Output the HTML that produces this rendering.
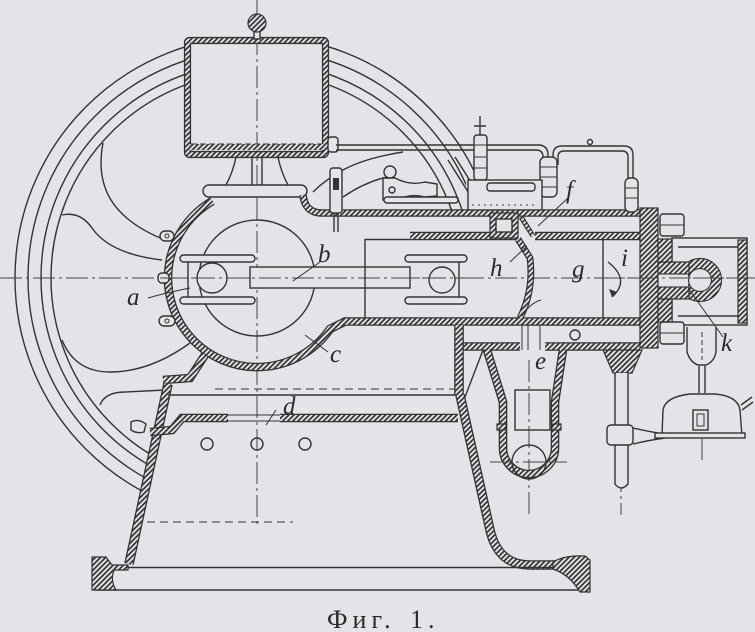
<!DOCTYPE html>
<html><head><meta charset="utf-8">
<style>
html,body{margin:0;padding:0;background:#e2e4e7;}
svg{display:block;}
.l{fill:none;stroke:#333;stroke-width:1.4;}
.t{fill:none;stroke:#333;stroke-width:1;}
.f{fill:#e2e4e7;stroke:#333;stroke-width:1.4;}
.hb{fill:url(#h);stroke:#333;stroke-width:1.2;}
.wo{fill:none;stroke:#333;}
.wi{fill:none;stroke:url(#h);}
.ax{fill:none;stroke:#444;stroke-width:1;stroke-dasharray:22 4 3 4;}
.lab{font-family:"Liberation Serif",serif;font-style:italic;font-size:25px;fill:#2a2a2a;}
.cap{font-family:"Liberation Serif",serif;font-size:26px;fill:#2a2a2a;letter-spacing:5px;}
</style></head><body>
<svg width="755" height="632" viewBox="0 0 755 632" xmlns="http://www.w3.org/2000/svg">
<defs>
<pattern id="h" width="3.6" height="3.6" patternUnits="userSpaceOnUse" patternTransform="rotate(45)">
<rect width="3.6" height="3.6" fill="#e2e4e7"/>
<rect width="1.7" height="3.6" fill="#333"/>
</pattern>
</defs>
<rect width="755" height="632" fill="#e2e4e7"/>

<!-- flywheel rim -->
<g class="l">
<circle cx="257" cy="278" r="242"/>
<circle cx="257" cy="278" r="229"/>
<circle cx="257" cy="278" r="216"/>
<circle cx="257" cy="278" r="206"/>
</g>
<!-- occluders -->
<g fill="#e2e4e7">
<rect x="185" y="30" width="144" height="129"/>
<circle cx="257" cy="278" r="93"/>
<path d="M300 212 L760 212 L760 632 L90 632 L90 566 L125 566 L164 386 L190 378 L205 355 L300 330 Z"/>
<rect x="466" y="178" width="78" height="34"/>
</g>
<!-- spokes -->
<g class="l">
<path d="M103 143 C95 185 110 218 165 240"/>
<path d="M62 215 Q80 211 92 228 Q110 254 162 260"/>
<path d="M62 340 Q75 372 110 372 Q150 372 190 343"/>
<path d="M100 405 Q105 392 125 392 L165 390"/>
</g>

<!-- axes -->
<path class="ax" d="M0 278 L755 278"/>
<path class="ax" d="M257 0 L257 525"/>
<path class="ax" d="M529 360 L529 518"/>
<path class="ax" d="M621 470 L621 515"/>
<path class="ax" d="M702 438 L702 462"/>

<!-- tank -->
<rect x="187.5" y="40.5" width="138" height="114" rx="2" class="wo" stroke-width="7.2"/>
<rect x="187.5" y="40.5" width="138" height="114" rx="2" class="wi" stroke-width="4.6"/>
<rect x="190" y="144" width="133" height="6" fill="url(#h)"/>
<path class="t" d="M191 144 L322 144" stroke-dasharray="6 3"/>
<rect x="254" y="30" width="6" height="9" class="f"/>
<circle cx="257" cy="23" r="9" class="hb"/>
<path class="l" d="M236 157 Q233 172 226 185 M278 157 Q281 172 288 185 M252 157 L252 185 M262 157 L262 185"/>
<rect x="203" y="185" width="104" height="12" rx="6" class="f"/>

<!-- crankcase + cylinder bottom wall -->
<path class="wo" stroke-width="8.6" d="M212.5 201 A89 89 0 1 0 330 329 L345 321.5 L640 321.5"/>
<path class="wi" stroke-width="6" d="M212.5 201 A89 89 0 1 0 330 329 L345 321.5 L640 321.5"/>
<!-- lugs -->
<rect x="160" y="231" width="14" height="10" rx="5" class="f"/>
<circle cx="167" cy="236" r="2" class="t"/>
<rect x="158" y="273" width="11" height="10" rx="4" class="f"/>
<rect x="159" y="316" width="16" height="10" rx="5" class="f"/>
<circle cx="167" cy="321" r="2" class="t"/>
<!-- top frame wall -->
<path class="wo" stroke-width="7.6" d="M303 195 Q305 213 322 213 L640 213"/>
<path class="wi" stroke-width="5" d="M303 195 Q305 213 322 213 L640 213"/>
<!-- cylinder inner top wall -->
<path class="wo" stroke-width="8.6" d="M410 236 L518 236 M535 236 L640 236"/>
<path class="wi" stroke-width="6" d="M410 236 L518 236 M535 236 L640 236"/>
<!-- lower jacket -->
<path class="wo" stroke-width="8.6" d="M459 346.5 L520 346.5 M545 346.5 L640 346.5"/>
<path class="wi" stroke-width="6" d="M459 346.5 L520 346.5 M545 346.5 L640 346.5"/>
<path class="wo" stroke-width="9.6" d="M459 325 L459 395"/>
<path class="wi" stroke-width="7" d="M459 325 L459 395"/>
<path class="t" d="M522 325 L522 350 M528 325 L528 350 M540 325 L540 350"/>
<circle cx="575" cy="335" r="5" class="l"/>

<!-- crank disc + rod -->
<circle cx="257" cy="278" r="58" class="l"/>
<rect x="250" y="267" width="160" height="21" class="f"/>
<rect x="180" y="255" width="75" height="7" rx="3.5" class="f"/>
<rect x="180" y="297" width="75" height="7" rx="3.5" class="f"/>
<path class="l" d="M188 262 L188 297"/>
<circle cx="212" cy="278" r="15" class="f"/>
<rect x="405" y="255" width="62" height="7" rx="3.5" class="f"/>
<rect x="405" y="297" width="62" height="7" rx="3.5" class="f"/>
<path class="l" d="M459 262 L459 297"/>
<circle cx="442" cy="280" r="13" class="f"/>
<path class="ax" d="M160 278 L470 278"/>
<!-- piston -->
<path class="l" d="M365 239.5 L410 239.5 M365 239 L365 318"/>
<path class="wo" stroke-width="6.8" d="M518 239 L530 258 Q534 290 520 318"/>
<path class="wi" stroke-width="4.4" d="M518 239 L530 258 Q534 290 520 318"/>
<path class="l" d="M603 239 L603 318"/>
<!-- port chamber -->
<rect x="490" y="213" width="28" height="25" class="hb"/>
<rect x="496" y="219" width="16" height="13" class="f"/>
<path class="wo" stroke-width="5" d="M521 217 L533 236"/>
<path class="wi" stroke-width="3" d="M521 217 L533 236"/>

<!-- head -->
<rect x="672" y="238" width="75" height="87" class="l" stroke-width="1.8"/>
<path class="l" d="M678 247 L740 247 M678 316 L740 316"/>
<rect x="738" y="240" width="9" height="83" class="hb"/>
<circle cx="700" cy="280" r="16.5" class="wo" stroke-width="11.2"/>
<circle cx="700" cy="280" r="16.5" class="wi" stroke-width="9"/>
<rect x="645" y="262" width="44" height="12" class="hb"/>
<rect x="645" y="287" width="44" height="12" class="hb"/>
<rect x="656" y="274.6" width="32" height="11.8" fill="#e2e4e7"/>
<rect x="640" y="208" width="18" height="140" class="hb"/>
<rect x="658" y="239" width="14" height="23" class="hb"/>
<rect x="658" y="299" width="14" height="23" class="hb"/>
<rect x="660" y="214" width="24" height="22" rx="3" class="f"/>
<path class="t" d="M660 225 L684 225"/>
<rect x="660" y="322" width="24" height="22" rx="3" class="f"/>
<path class="t" d="M660 333 L684 333"/>
<path class="ax" d="M603 278 L755 278"/>
<path class="l" d="M608 262 Q631 280 612 297"/>
<path d="M612 297 L609 289 L617 292 Z" fill="#333"/>

<!-- pipes / valve gear -->
<rect x="328" y="137" width="10" height="15" rx="3" class="f"/>
<path class="l" d="M336 145 L538 145 Q548 145 548 155 L548 160 M336 150 L536 150 Q543 150 543 157 L543 160"/>
<path class="l" d="M553 165 L553 155 Q553 146 562 146 L624 146 Q633 146 633 155 L633 180 M558 165 L558 157 Q558 151 564 151 L622 151 Q628 151 628 157 L628 180"/>
<circle cx="590" cy="142" r="2.5" class="l"/>
<rect x="625" y="178" width="13" height="34" rx="5" class="f"/>
<path class="t" d="M625 188 L638 188 M625 198 L638 198"/>
<rect x="540" y="157" width="17" height="40" rx="5" class="f"/>
<path class="t" d="M540 167 L557 167 M540 177 L557 177 M540 187 L557 187"/>
<path class="l" d="M403 152 Q365 158 343 170 Q325 180 313 192"/>
<path class="l" d="M343 197 Q365 182 387 177"/>
<rect x="330" y="168" width="12" height="45" rx="3" class="f"/>
<rect x="333" y="178" width="6" height="12" fill="#333"/>
<path class="l" d="M334 213 L334 232 M338 213 L338 232"/>
<path class="f" d="M383 178 L395 178 Q410 186 425 182 L437 184 L437 196 L425 197 Q410 193 398 200 L383 200 Z"/>
<circle cx="390" cy="172" r="6" class="f"/>
<circle cx="392" cy="190" r="3" class="l"/>
<rect x="384" y="197" width="74" height="6" rx="3" class="f"/>
<path class="l" d="M448 160 L470 195 M455 157 L476 190"/>
<path class="l" d="M480 116 L480 135 M474 126 L486 126"/>
<rect x="474" y="135" width="13" height="45" rx="3" class="f"/>
<path class="t" d="M474 145 L487 145 M474 157 L487 157 M474 168 L487 168"/>
<rect x="468" y="180" width="74" height="30" class="f"/>
<rect x="487" y="183" width="48" height="8" rx="3" class="f"/>
<path class="t" d="M472 205 L538 205" stroke-dasharray="2 4"/>

<!-- pump e -->
<path class="l" d="M465 397 L483 350"/>
<path class="wo" stroke-width="8.6" d="M487 350 L503 402 L503 448 A26 26 0 0 0 555 448 L555 402 L563 350"/>
<path class="wi" stroke-width="6" d="M487 350 L503 402 L503 448 A26 26 0 0 0 555 448 L555 402 L563 350"/>
<rect x="497" y="424" width="9" height="6" class="hb"/>
<rect x="552" y="424" width="9" height="6" class="hb"/>
<rect x="515" y="390" width="35" height="40" class="l"/>
<circle cx="529" cy="462" r="17" class="l"/>
<path class="ax" d="M490 462 L567 462"/>

<!-- rod -->
<path class="hb" d="M603 350 L642 350 L632 373 L613 373 Z"/>
<path class="f" d="M615 373 L615 484 Q621 492 628 484 L628 373"/>
<rect x="607" y="425" width="26" height="20" rx="4" class="f"/>
<path class="l" d="M633 428 Q650 432 665 434 M633 444 Q650 440 665 438"/>
<!-- lamp -->
<path class="f" d="M687 327 L687 352 Q690 362 698 365 L706 365 Q714 362 716 352 L716 327"/>
<path class="t" d="M702 332 L702 360" stroke-dasharray="5 3"/>
<path class="l" d="M699 366 L699 393 M705 366 L705 393"/>
<path class="f" d="M662 436 L663 410 Q665 397 690 394 L715 394 Q738 396 740 410 L742 436 Z"/>
<rect x="655" y="433" width="90" height="5" class="f"/>
<rect x="693" y="410" width="15" height="20" class="l"/>
<rect x="697" y="414" width="7" height="12" class="t"/>
<path class="l" d="M741 405 L752 397 M742 410 L753 402"/>

<!-- base -->
<path class="wo" stroke-width="8.6" d="M205 355 L190 378 L163 380"/>
<path class="wi" stroke-width="6" d="M205 355 L190 378 L163 380"/>
<path class="wo" stroke-width="9.6" d="M168 384 L129 564"/>
<path class="wi" stroke-width="7" d="M168 384 L129 564"/>
<path class="l" d="M168 395 L457 395"/>
<path class="t" d="M215 389 L455 389" stroke-dasharray="8 5"/>
<path class="wo" stroke-width="8.6" d="M150 432 L172 430 L182 418 L228 418 M280 418 L458 418"/>
<path class="wi" stroke-width="6" d="M150 432 L172 430 L182 418 L228 418 M280 418 L458 418"/>
<path class="t" d="M228 415 L280 415 M228 421 L280 421"/>
<path class="f" d="M131 422 Q138 418 146 424 L144 432 Q137 434 131 430 Z"/>
<circle cx="207" cy="444" r="6" class="l"/>
<circle cx="257" cy="444" r="6" class="l"/>
<circle cx="305" cy="444" r="6" class="l"/>
<path class="t" d="M147 522 L293 522" stroke-dasharray="8 5"/>
<path class="wo" stroke-width="9.6" d="M460 395 L490 530 Q498 565 530 565 L555 565"/>
<path class="wi" stroke-width="7" d="M460 395 L490 530 Q498 565 530 565 L555 565"/>
<path class="l" d="M127 567.5 L553 567.5 M95 590 L590 590"/>
<path class="hb" d="M92 557 L106 557 L112 565 L128 565 L128 570 L114 570 Q110 580 116 590 L92 590 Z"/>
<path class="hb" d="M553 562 Q565 555 585 556 L590 560 L590 592 L580 592 Q570 575 553 569 Z"/>

<!-- leaders -->
<g class="t">
<path d="M148 298 Q165 293 190 288"/>
<path d="M320 262 L293 281"/>
<path d="M305 335 L328 352"/>
<path d="M276 410 L266 425"/>
<path d="M522 316 Q530 303 541 300"/>
<path d="M568 198 L538 226"/>
<path d="M510 262 L527 246"/>
<path d="M723 337 L688 288"/>
</g>
<!-- labels -->
<text class="lab" x="127" y="305">a</text>
<text class="lab" x="318" y="262">b</text>
<text class="lab" x="330" y="362">c</text>
<text class="lab" x="283" y="414">d</text>
<text class="lab" x="535" y="369">e</text>
<text class="lab" x="566" y="198">f</text>
<text class="lab" x="572" y="277">g</text>
<text class="lab" x="490" y="276">h</text>
<text class="lab" x="621" y="266">i</text>
<text class="lab" x="721" y="351">k</text>
<text class="cap" x="327" y="628">Фиг.</text>
<text class="cap" x="410" y="628">1.</text>
</svg>
</body></html>
